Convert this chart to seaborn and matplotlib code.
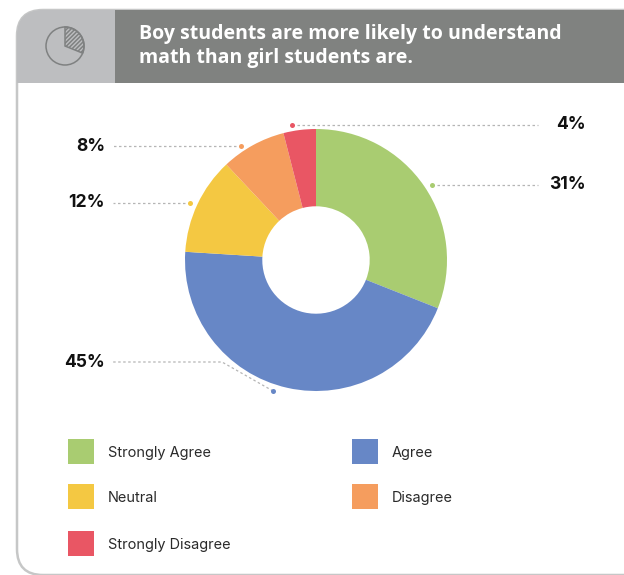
import matplotlib
matplotlib.use("Agg")
import matplotlib.pyplot as plt
from matplotlib.patches import FancyBboxPatch, Rectangle, Circle, Wedge
import seaborn as sns

categories = ["Strongly Agree", "Agree", "Neutral", "Disagree", "Strongly Disagree"]
shares = [31, 45, 12, 8, 4]
title_lines = ["Boy students are more likely to understand",
               "math than girl students are."]

sns.set_theme(style="white")
plt.rcParams["font.family"] = ["Open Sans", "DejaVu Sans"]
palette = sns.color_palette(["#A9CC71", "#6787C6", "#F4C842", "#F59D5E", "#E95664"])

W, H = 624, 575
fig = plt.figure(figsize=(W / 100, H / 100), dpi=100, facecolor="white")

# Full-figure canvas measured in pixels, y pointing down
canvas = fig.add_axes([0, 0, 1, 1])
canvas.set_xlim(0, W)
canvas.set_ylim(H, 0)
canvas.axis("off")

# Rounded card and its two-tone header
card = FancyBboxPatch((17, 10), 660, 565, boxstyle="round,pad=0,rounding_size=26",
                      fc="white", ec="#C6C7C7", lw=1.8, zorder=1)
canvas.add_patch(card)
for x0, x1, col in [(16, 114.5, "#BDBEC0"), (114.5, 700, "#808280")]:
    band = Rectangle((x0, 9), x1 - x0, 74, fc=col, ec="none", zorder=2)
    canvas.add_patch(band)
    band.set_clip_path(card)

# Pie pictogram in the header
plt.rcParams["hatch.color"] = "#808280"
plt.rcParams["hatch.linewidth"] = 1.1
canvas.add_patch(Circle((65, 46), 19, fc="none", ec="#7F8181", lw=1.1, zorder=3))
canvas.add_patch(Wedge((65, 46), 19, -90, 22, fc="none", ec="#7F8181", lw=1.1,
                       hatch="////////", zorder=3))

# Two-line headline
for y, line in zip([34.5, 58], title_lines):
    canvas.text(139, y, line, color="white", fontsize=14, fontweight="bold",
                va="center", ha="left", zorder=4)

# Donut
cx, cy, r = 316, 260, 131
pie_ax = fig.add_axes([(cx - r) / W, 1 - (cy + r) / H, 2 * r / W, 2 * r / H])
pie_ax.pie(shares, colors=palette, startangle=90, counterclock=False, radius=1,
           wedgeprops={"width": 0.59, "linewidth": 0})
pie_ax.set_xlim(-1, 1)
pie_ax.set_ylim(-1, 1)
pie_ax.patch.set_alpha(0)

# Leader lines: polyline from the dot to the label, then the label's anchor
leaders = [
    ([(432, 185), (538, 185)], (585, 184), "right"),
    ([(273, 391), (222, 362), (113, 362)], (104, 362), "right"),
    ([(190, 203), (113, 203)], (104, 202), "right"),
    ([(241, 146), (113, 146)], (104, 146), "right"),
    ([(292, 125), (538, 125)], (585, 124), "right"),
]
for share, col, (pts, (tx, ty), ha) in zip(shares, palette, leaders):
    xs, ys = zip(*pts)
    canvas.plot(xs, ys, color="#B5B5B5", lw=0.9, ls=(0, (2, 2)), zorder=3)
    canvas.plot(xs[0], ys[0], "o", color=col, ms=3.6, mew=0, zorder=4)
    canvas.text(tx + 1, ty + 0.5, f"{share}%", color="#111111", fontsize=12.6, fontweight="bold",
                family=["Inter", "DejaVu Sans"], ha=ha, va="center", zorder=4)

# Legend swatches and names, two columns
legend_slots = [(68, 439), (352, 439), (68, 484), (352, 484), (68, 531)]
for name, col, (x, y) in zip(categories, palette, legend_slots):
    canvas.add_patch(Rectangle((x, y), 25.5, 25, fc=col, ec="none", zorder=3))
    canvas.text(x + 40, y + 14, name, color="#2A2A2A", fontsize=10.45,
                family=["Inter", "DejaVu Sans"], va="center", ha="left", zorder=4)

fig.savefig("out.png", dpi=100, facecolor="white")
